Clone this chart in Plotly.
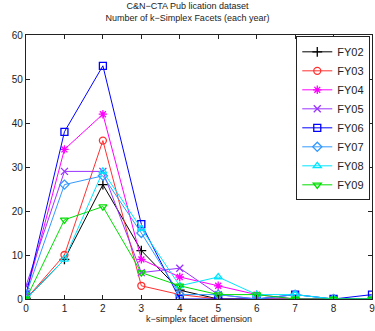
import plotly.graph_objects as go

k = [0, 1, 2, 3, 4, 5, 6, 7, 8, 9]
names = ["FY02", "FY03", "FY04", "FY05", "FY06", "FY07", "FY08", "FY09"]
fy02 = [0, 9, 26, 11, 2, 0, 0, 0, 0, 0]
fy03 = [0, 10, 36, 3, 1, 0, 0, 0, 0, 0]
fy04 = [1, 34, 42, 9, 5, 3, 1, 0, 0, 0]
fy05 = [3, 29, 29, 6, 7, 1, 0, 0, 0, 0]
fy06 = [1, 38, 53, 17, 0, 0, 0, 1, 0, 1]
fy07 = [1, 26, 28, 15, 1, 1, 0, 1, 0, 0]
fy08 = [0, 9, 29, 16, 3, 5, 1, 1, 0, 0]
fy09 = [0, 18, 21, 6, 3, 1, 1, 0, 0, 0]
series = [fy02, fy03, fy04, fy05, fy06, fy07, fy08, fy09]

colors = ["#000000", "#ff3030", "#ff00ff", "#9933ff", "#0000ff", "#3399ff", "#00e5ff", "#00dd00"]
symbols = ["cross-thin-open", "circle-open", "asterisk-open", "x-thin-open",
           "square-open", "diamond-open", "triangle-up-open", "triangle-down-open"]

fig = go.Figure()
for n, s, c, sym in zip(names, series, colors, symbols):
    fig.add_trace(go.Scatter(x=k, y=s, name=n, mode="lines+markers",
                             line=dict(color=c, width=1),
                             marker=dict(symbol=sym, size=7, color=c,
                                         line=dict(color=c, width=1.3))))

font = dict(family="Liberation Sans, Arial, sans-serif", size=10, color="#222")
fig.update_layout(
    width=375, height=331,
    margin=dict(l=26, r=3, t=35, b=32, autoexpand=False),
    paper_bgcolor="white", plot_bgcolor="white",
    font=font,
    title=dict(text="C&N−CTA Pub lication dataset<br>Number of k−Simplex Facets (each year)",
               x=0.5, xanchor="center", y=0.972, yanchor="top",
               font=dict(size=9, color="#222")),
    legend=dict(x=0.995, y=0.995, xanchor="right", yanchor="top",
                bordercolor="#222", borderwidth=1, bgcolor="white",
                font=dict(size=11, color="#222"), tracegroupgap=0,
                itemwidth=30),
    showlegend=True,
)
axis_common = dict(showline=True, linecolor="#222", linewidth=1.3, mirror="ticks",
                   ticks="inside", ticklen=4, tickcolor="#222", showgrid=False,
                   zeroline=False, tickfont=dict(size=10, color="#222"),
                   ticklabeloverflow="allow")
fig.update_xaxes(range=[0, 9], tickmode="array", tickvals=k,
                 title=dict(text="k−simplex facet dimension", font=dict(size=9, color="#222"),
                            standoff=2),
                 **axis_common)
fig.update_yaxes(range=[0, 60], tickmode="array", tickvals=[0, 10, 20, 30, 40, 50, 60],
                 **axis_common)
fig.write_html("out.html", config={"displayModeBar": False},
               post_script="document.body.style.margin='0';document.body.style.padding='0';")
